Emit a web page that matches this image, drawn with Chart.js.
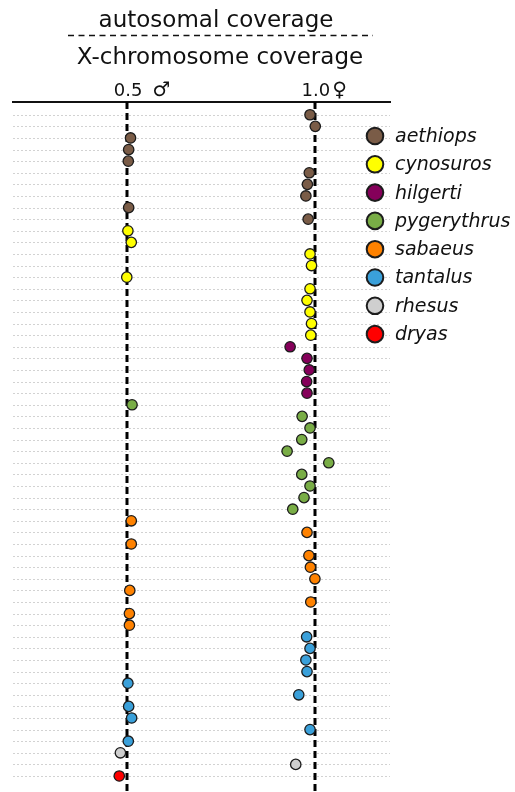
<!DOCTYPE html>
<html>
<head>
<meta charset="utf-8">
<script src="https://cdn.jsdelivr.net/npm/chart.js@4.4.1/dist/chart.umd.min.js"></script>
<style>
html, body { margin: 0; padding: 0; background: #fff; }
canvas { display: block; }
</style>
</head>
<body>
<canvas id="myChart" width="515" height="792"></canvas>
<script>
// autosomal / X coverage ratio per sample, top to bottom within each species
var species = ['aethiops', 'cynosuros', 'hilgerti', 'pygerythrus', 'sabaeus', 'tantalus', 'rhesus', 'dryas'];
var colors = ['#7a5c47', '#ffff00', '#85005a', '#79ad46', '#ff8200', '#3aa0da', '#cfcfcf', '#ff0000'];
var aethiops = [0.987, 1.001, 0.509, 0.504, 0.503, 0.985, 0.980, 0.976, 0.504, 0.982];
var cynosuros = [0.502, 0.511, 0.987, 0.991, 0.499, 0.987, 0.979, 0.987, 0.991, 0.989];
var hilgerti = [0.934, 0.979, 0.985, 0.978, 0.979];
var pygerythrus = [0.513, 0.966, 0.987, 0.965, 0.926, 1.037, 0.965, 0.987, 0.971, 0.941];
var sabaeus = [0.511, 0.979, 0.511, 0.984, 0.988, 1.000, 0.507, 0.989, 0.506, 0.506];
var tantalus = [0.978, 0.987, 0.976, 0.979, 0.502, 0.957, 0.504, 0.512, 0.987, 0.503];
var rhesus = [0.482, 0.949];
var dryas = [0.479];
var seriesValues = [aethiops, cynosuros, hilgerti, pygerythrus, sabaeus, tantalus, rhesus, dryas];

var tickValues = [0.5, 1.0];
var tickLabels = ['0.5', '1.0'];
var tickSymbols = ['\u2642', '\u2640'];

var FONT = '"DejaVu Sans", Verdana, sans-serif';

var row = 0;
var datasets = species.map(function (name, s) {
    var pts = seriesValues[s].map(function (v) {
        return { x: v, y: row++ };
    });
    return {
        label: name,
        data: pts,
        backgroundColor: colors[s],
        borderColor: '#1c1c1c',
        borderWidth: 1.3,
        pointRadius: 5.2,
        pointHoverRadius: 5.2
    };
});
var nRows = row;

var overlay = {
    id: 'overlay',
    beforeDatasetsDraw: function (chart) {
        var ctx = chart.ctx, area = chart.chartArea;
        var xs = chart.scales.x, ys = chart.scales.y;
        ctx.save();
        // dotted row lines
        ctx.strokeStyle = '#d2d2d2';
        ctx.lineWidth = 1;
        ctx.setLineDash([2, 2]);
        for (var i = 0; i < nRows; i++) {
            var py = Math.round(ys.getPixelForValue(i)) + 0.5;
            ctx.beginPath();
            ctx.moveTo(area.left, py);
            ctx.lineTo(area.right, py);
            ctx.stroke();
        }
        // dashed reference lines at 0.5 and 1.0
        ctx.strokeStyle = '#000';
        ctx.lineWidth = 3;
        ctx.setLineDash([7, 4]);
        tickValues.forEach(function (v) {
            var px = Math.round(xs.getPixelForValue(v));
            ctx.beginPath();
            ctx.moveTo(px, area.top);
            ctx.lineTo(px, chart.height);
            ctx.stroke();
        });
        ctx.restore();
    },
    afterDraw: function (chart) {
        var ctx = chart.ctx;
        var xs = chart.scales.x;
        ctx.save();
        ctx.fillStyle = '#111';
        // fraction title
        ctx.font = '23px ' + FONT;
        ctx.textAlign = 'center';
        ctx.textBaseline = 'alphabetic';
        ctx.fillText('autosomal coverage', 216, 27);
        ctx.fillText('X-chromosome coverage', 220, 64);
        ctx.strokeStyle = '#111';
        ctx.lineWidth = 1.5;
        ctx.setLineDash([6, 4.5]);
        ctx.beginPath();
        ctx.moveTo(68, 35.5);
        ctx.lineTo(373, 35.5);
        ctx.stroke();
        ctx.setLineDash([]);

        // tick labels with sex symbols
        tickValues.forEach(function (v, i) {
            var px = xs.getPixelForValue(v);
            ctx.font = '18px ' + FONT;
            ctx.textAlign = 'center';
            ctx.fillText(tickLabels[i], px + 1, 96);
            var w = ctx.measureText(tickLabels[i]).width;
            ctx.font = '20px ' + FONT;
            ctx.textAlign = 'left';
            ctx.fillText(tickSymbols[i], px + 1 + w / 2 + (i === 0 ? 10 : 2), 96);
        });

        // legend
        species.forEach(function (name, s) {
            var cy = 136 + s * 28.3;
            ctx.beginPath();
            ctx.arc(375, cy, 8.3, 0, Math.PI * 2);
            ctx.fillStyle = colors[s];
            ctx.fill();
            ctx.lineWidth = 2;
            ctx.strokeStyle = '#1c1c1c';
            ctx.stroke();
            ctx.fillStyle = '#111';
            ctx.font = 'italic 19px ' + FONT;
            ctx.textAlign = 'left';
            ctx.textBaseline = 'middle';
            ctx.fillText(name, 395, cy + 1);
            ctx.textBaseline = 'alphabetic';
        });
        ctx.restore();
    }
};

var ctx = document.getElementById('myChart').getContext('2d');
var myChart = new Chart(ctx, {
    type: 'scatter',
    data: { datasets: datasets },
    options: {
        responsive: false,
        animation: false,
        devicePixelRatio: 1,
        layout: { padding: { left: 13, right: 125, top: 102, bottom: 0 } },
        plugins: {
            legend: { display: false },
            tooltip: { enabled: false },
            title: { display: false }
        },
        scales: {
            x: {
                position: 'top',
                min: 0.196,
                max: 1.2,
                afterBuildTicks: function (s) {
                    s.ticks = tickValues.map(function (v) { return { value: v }; });
                },
                afterFit: function (s) { s.height = 0; },
                ticks: { display: false },
                grid: { display: false },
                border: { display: true, color: '#111', width: 2 }
            },
            y: {
                display: false,
                reverse: true,
                min: -1.1,
                max: 57.82
            }
        }
    },
    plugins: [overlay]
});
</script>
</body>
</html>
